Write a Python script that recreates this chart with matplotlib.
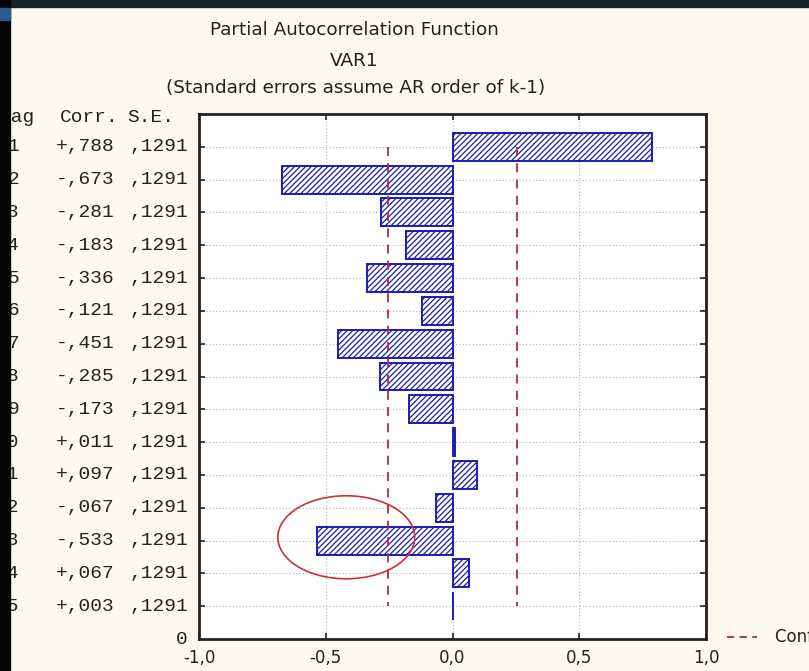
import numpy as np
import matplotlib
matplotlib.use("Agg")
import matplotlib.pyplot as plt
import matplotlib.ticker as ticker
import matplotlib.transforms as mtrans
from matplotlib.patches import Ellipse, Rectangle

# PACF values
lags = np.arange(1, 16)
pacf = [0.788, -0.673, -0.281, -0.183, -0.336, -0.121, -0.451, -0.285,
        -0.173, 0.011, 0.097, -0.067, -0.533, 0.067, 0.003]
std_err = [0.1291] * 15
conf_limit = 0.253   # ~1.96 * S.E.
x_ticks = [-1.0, -0.5, 0.0, 0.5, 1.0]

W, H = 809, 671
bg = '#fdf9ee'
plt.rcParams['hatch.color'] = '#1c1cb0'
plt.rcParams['hatch.linewidth'] = 0.9
fig = plt.figure(figsize=(W / 100, H / 100), dpi=100, facecolor=bg)

def px(x, y):
    # pixel coords (top-left origin) -> figure fraction
    return x / W, 1 - y / H

ax = fig.add_axes([199 / W, 1 - 639 / H, 507 / W, 525 / H])
ax.set_facecolor('white')

ax.barh(lags, pacf, height=0.85, color='white', edgecolor='#1c1cb0',
        hatch='//////', linewidth=1.4, zorder=3)

ax.vlines([-conf_limit, conf_limit], 1, 15, colors='#b8283a', linestyles=(0, (5, 4)),
          linewidth=1.3, zorder=4)

ax.add_patch(Ellipse((-0.419, 12.9), 0.54, 2.53, fill=False, edgecolor='#cc3333',
                     linewidth=1.2, zorder=5))

ax.set_xlim(-1, 1)
ax.set_ylim(16, 0)
ax.set_xticks(x_ticks)
ax.xaxis.set_major_formatter(ticker.FuncFormatter(lambda v, _: f'{v:.1f}'.replace('.', ',')))
ax.set_yticks(lags)
ax.set_yticklabels([])
ax.tick_params(axis='both', direction='in', length=4, width=1.2, color='#222222',
               top=True, right=True, labelsize=12, pad=7)
for lab in ax.get_xticklabels():
    lab.set_family('DejaVu Sans')
    lab.set_color('#222222')
ax.grid(True, linestyle=(0, (1, 2)), color='#b4b4b4', linewidth=0.8, zorder=0)
ax.set_axisbelow(True)
for s in ax.spines.values():
    s.set_linewidth(2)
    s.set_color('#222222')

# titles
tx, _ = px(354, 0)
fig.text(tx, px(0, 30)[1], 'Partial Autocorrelation Function', ha='center', va='center',
         fontsize=13.2, family='DejaVu Sans', color='#222222')
fig.text(tx, px(0, 61)[1], 'VAR1', ha='center', va='center',
         fontsize=13.2, family='DejaVu Sans', color='#222222')
fig.text(tx + 2 / W, px(0, 88)[1], '(Standard errors assume AR order of k-1)', ha='center',
         va='center', fontsize=13.2, family='DejaVu Sans', color='#222222')

# lag table to the left of the plot
mono = dict(family='Liberation Mono', fontsize=14, color='#222222', va='center')
yt = px(0, 118)[1]
fig.text(0 / W, yt, 'Lag', ha='left', **mono)
fig.text(60 / W, yt, 'Corr.', ha='left', **mono)
fig.text(127 / W, yt, 'S.E.', ha='left', **mono)
blend = mtrans.blended_transform_factory(fig.transFigure, ax.transData)
for lag, r, se in zip(lags, pacf, std_err):
    sign = '+' if r >= 0 else '-'
    fig.text(19 / W, lag, str(lag), ha='right', transform=blend, **mono)
    fig.text(56 / W, lag, f'{sign},{abs(r) * 1000:03.0f}', ha='left', transform=blend, **mono)
    fig.text(188 / W, lag, ',' + f'{se:.4f}'.split('.')[1], ha='right', transform=blend, **mono)
fig.text(188 / W, 16, '0', ha='right', transform=blend, **mono)

# legend entry, clipped by the figure edge
fig.add_artist(plt.Line2D([727 / W, 757 / W], [px(0, 637)[1]] * 2, color='#b8283a',
                          linestyle=(0, (4, 3)), linewidth=1.3))
fig.text(775 / W, px(0, 637)[1], 'Conf. Limit', ha='left', va='center', fontsize=12,
         family='DejaVu Sans', color='#222222')

# dark screen edges (slide background)
fig.patches.append(Rectangle((0, 1 - 7 / H), 1, 7 / H, transform=fig.transFigure,
                             color='#18202c', zorder=10))
fig.patches.append(Rectangle((0, 0), 10 / W, 1, transform=fig.transFigure,
                             color='#050505', zorder=10))
fig.patches.append(Rectangle((0, 1 - 20 / H), 10 / W, 12 / H, transform=fig.transFigure,
                             color='#2c5a8c', zorder=11))

fig.savefig('out.png', dpi=100, facecolor=bg)
